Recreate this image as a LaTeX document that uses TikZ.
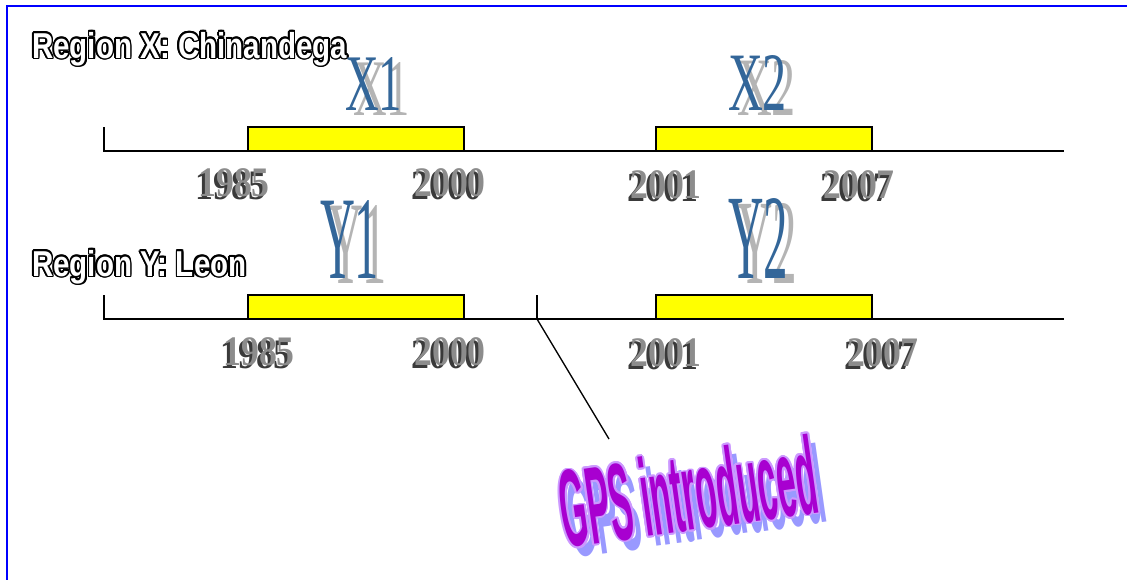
\documentclass[tikz,border=0pt]{standalone}
\usepackage{fontspec}
\usepackage{contour}
\usepackage{graphicx}
\usetikzlibrary{positioning, calc}
\setmainfont{Liberation Serif}
\newfontfamily\regionfont[FakeStretch=0.82]{Liberation Sans}
\newfontfamily\yearfont[FakeStretch=0.85]{Liberation Serif}
\newfontfamily\tagfont{Liberation Serif}
\newfontfamily\gpsfont[FakeStretch=0.31]{Liberation Sans}
\definecolor{framecol}{HTML}{0000FF}
\definecolor{periodfill}{HTML}{FFFF00}
\definecolor{tagblue}{HTML}{336699}
\definecolor{tagshade}{HTML}{B4B4B4}
\definecolor{yearfront}{HTML}{8C8C8C}
\definecolor{yeardark}{HTML}{3A3A3A}
\definecolor{gpsfill}{HTML}{A800D0}
\definecolor{gpsedge}{HTML}{CC99FF}
\definecolor{gpsshade}{HTML}{9999FF}

\begin{document}
\begin{tikzpicture}[
    x=1pt, y=-1pt,
    axis/.style={draw=black, line width=1.8pt},
    period/.style={
        rectangle, draw=black, fill=periodfill, line width=1.6pt,
        minimum width=216pt, minimum height=24pt, inner sep=0pt,
    },
    region/.style={
        anchor=base west, inner sep=0pt, text=white,
        font=\fontsize{36}{36}\selectfont\regionfont\bfseries,
    },
    tag/.style={inner sep=0pt, text=tagblue, font=\fontsize{60}{60}\selectfont\tagfont},
    tagshade/.style={tag, text=tagshade},
    year/.style={inner sep=0pt, text=yearfront,
        font=\fontsize{42}{42}\selectfont\yearfont\bfseries},
    yearshade/.style={year, text=yeardark},
    gps/.style={inner sep=0pt, rotate=8, text=gpsfill,
        font=\fontsize{110}{110}\selectfont\gpsfont\bfseries},
    gpsshade/.style={gps, text=gpsshade},
    conn/.style={draw=black, line width=1.3pt},
]
\useasboundingbox (0,0) rectangle (1127,579);

% Frame
\begin{scope}
    \clip (0,0) rectangle (1127,579);
    \draw[framecol, line width=2.6pt] (7,6) rectangle (1150,600);
\end{scope}

% Region titles
\contourlength{1.6pt}
\node[region] (titlex) at (32,58)  {\contour{black}{Region X: Chinandega}};
\node[region] (titley) at (32,276) {\contour{black}{Region Y: Leon}};

% Timelines
\coordinate (xstart) at (104,127);
\coordinate (xend)   at (1064,151);
\coordinate (ystart) at (104,295);
\coordinate (yend)   at (1064,319);
\coordinate (gpstick) at (537,295);
\draw[axis] (xstart) -- (xstart |- xend) -- (xend);
\draw[axis] (ystart) -- (ystart |- yend) -- (yend);
\draw[axis] (gpstick) -- (gpstick |- yend);

% Periods
\node[period] (px1) at (356,139) {};
\node[period] (px2) at (764,139) {};
\node[period] (py1) at (356,307) {};
\node[period] (py2) at (764,307) {};

% Period tags
\node[tagshade] at (381.5,88.5) {\resizebox{57pt}{53pt}{X1}};
\node[tag] (tx1) at (373.5,83.5) {\resizebox{57pt}{53pt}{X1}};
\node[tagshade] at (766.5,87.5) {\resizebox{59pt}{55pt}{X2}};
\node[tag] (tx2) at (757.5,82.5) {\resizebox{59pt}{55pt}{X2}};
\node[tagshade] at (357.5,244) {\resizebox{59pt}{78pt}{Y1}};
\node[tag] (ty1) at (349.5,239) {\resizebox{59pt}{78pt}{Y1}};
\node[tagshade] at (767,243) {\resizebox{60pt}{80pt}{Y2}};
\node[tag] (ty2) at (758,238) {\resizebox{60pt}{80pt}{Y2}};

% Years, region X
\node[yearshade] at (231,186) {1985};
\node[year] (ax1) at (234,183) {1985};
\node[yearshade] at (447,186) {2000};
\node[year] (bx1) at (450,183) {2000};
\node[yearshade] at (663,188) {2001};
\node[year] (ax2) at (666,185) {2001};
\node[yearshade] at (856,188) {2007};
\node[year] (bx2) at (859,185) {2007};

% Years, region Y
\node[yearshade] at (256,355) {1985};
\node[year] (ay1) at (259,352) {1985};
\node[yearshade] at (447,355) {2000};
\node[year] (by1) at (450,352) {2000};
\node[yearshade] at (663,356) {2001};
\node[year] (ay2) at (666,353) {2001};
\node[yearshade] at (880,356) {2007};
\node[year] (by2) at (883,353) {2007};

% GPS note
\node[gpsshade] at (696,501) {GPS introduced};
\node[gps] (gpsnote) at (688,492) {\contourlength{1.8pt}\contour{gpsedge}{GPS introduced}};
\coordinate (gpsend) at (609,439);
\draw[conn] (gpstick |- yend) -- (gpsend);

\end{tikzpicture}
\end{document}
